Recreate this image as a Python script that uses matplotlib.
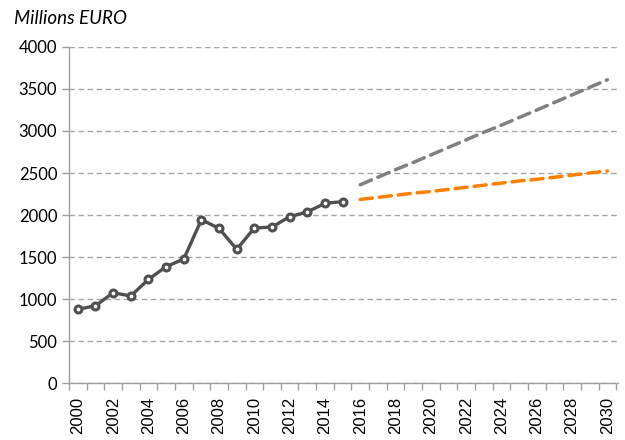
import matplotlib
matplotlib.use("Agg")
from matplotlib import pyplot as plt

# historical values (millions EUR)
years_hist = list(range(2000, 2016))
values_hist = [877, 920, 1075, 1036, 1234, 1385, 1476, 1944, 1841, 1591,
               1845, 1857, 1980, 2036, 2139, 2159]

# projections 2016-2030
years_proj = list(range(2016, 2031))
proj_high = [2360, 2450, 2540, 2625, 2715, 2805, 2895, 2985, 3070, 3160,
             3250, 3340, 3430, 3520, 3610]
proj_low = [2185, 2210, 2235, 2260, 2280, 2305, 2330, 2355, 2380, 2405,
            2425, 2450, 2475, 2500, 2525]

year_labels = [str(y) for y in range(2000, 2031, 2)]

fig = plt.figure(figsize=(6.25, 4.4), dpi=100)
ax = fig.add_axes([0.1104, 0.1295, 0.8784, 0.7637])

ax.plot(years_hist, values_hist, color="#505050", lw=2.4, marker="o",
        markersize=5, markerfacecolor="white", markeredgecolor="#505050",
        markeredgewidth=2.2, zorder=3)
ax.plot(years_proj, proj_high, color="#808080", lw=2.5, dashes=(3.5, 2),
        dash_capstyle="round", zorder=3)
ax.plot(years_proj, proj_low, color="#ff8000", lw=2.5, dashes=(3.5, 2),
        dash_capstyle="round", zorder=3)

ax.set_ylim(0, 4000)
ax.set_yticks(range(0, 4001, 500))
ax.set_xlim(1999.6, 2030.6)
ax.set_xticks(range(2000, 2031, 2))
ax.set_xticklabels(year_labels, rotation=90, family="Liberation Sans", fontsize=12)
ax.set_xticks([y + 0.5 for y in range(1999, 2031)], minor=True)
ax.tick_params(axis="x", which="major", length=0, pad=10)
ax.tick_params(axis="x", which="minor", length=5, color="#a0a0a0", width=1)
ax.tick_params(axis="y", length=5, color="#a0a0a0", width=1, labelsize=12)
for lbl in ax.get_yticklabels():
    lbl.set_family("Lato")

ax.grid(axis="y", color="#a6a6a6", linestyle=(0, (4, 2.5)), lw=1)
ax.set_axisbelow(True)
for s in ["top", "right"]:
    ax.spines[s].set_visible(False)
for s in ["left", "bottom"]:
    ax.spines[s].set_color("#a0a0a0")
    ax.spines[s].set_linewidth(1)

fig.text(0.022, 0.958, "Millions EURO", fontsize=13.5, style="italic",
         family="Lato", va="center", ha="left")

plt.savefig("out.png", dpi=100)
